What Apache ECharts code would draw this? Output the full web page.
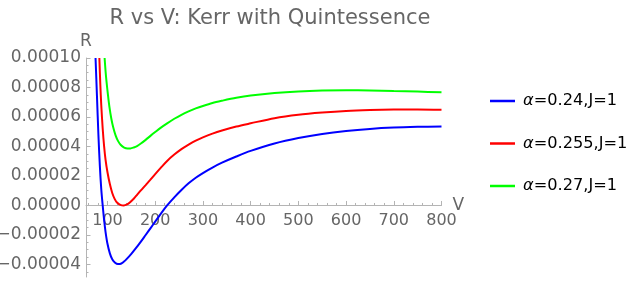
<!DOCTYPE html>
<html>
<head>
<meta charset="utf-8">
<script src="https://cdn.jsdelivr.net/npm/echarts@6/dist/echarts.min.js"></script>
<style>
  html, body { margin: 0; padding: 0; background: #fff; }
  #chart { width: 637px; height: 282px; }
</style>
</head>
<body>
<div id="chart"></div>
<script>
const seriesNames = ['α=0.24,J=1', 'α=0.255,J=1', 'α=0.27,J=1'];

// R values below are in units of 1e-5
const vBlue = [75, 78, 81, 84, 87, 90, 93, 96, 100, 105, 110, 116, 122, 128, 134, 140, 150, 160, 170, 180, 190, 200, 212, 225, 240, 255, 270, 285, 300, 320, 340, 370, 400, 450, 500, 550, 600, 650, 700, 750, 800];
const rBlue = [10, 7.4, 4.8, 2.7, 1.1, 0, -1.0, -1.8, -2.6, -3.25, -3.65, -3.88, -3.97, -3.95, -3.82, -3.64, -3.28, -2.88, -2.45, -2.0, -1.55, -1.1, -0.55, 0, 0.55, 1.05, 1.5, 1.88, 2.2, 2.57, 2.9, 3.32, 3.7, 4.2, 4.57, 4.85, 5.05, 5.19, 5.28, 5.33, 5.36];

const vRed = [83, 85, 87, 90, 93, 96, 100, 105, 110, 115, 120, 127, 134, 141, 148, 155, 162, 170, 180, 190, 200, 212, 225, 240, 255, 270, 285, 300, 320, 340, 370, 400, 450, 500, 550, 600, 650, 700, 750, 800];
const rRed = [10, 8.2, 6.8, 5.2, 4.0, 3.1, 2.25, 1.45, 0.85, 0.45, 0.2, 0.04, 0, 0.07, 0.24, 0.46, 0.72, 1.02, 1.38, 1.75, 2.13, 2.57, 3.02, 3.45, 3.82, 4.13, 4.4, 4.62, 4.87, 5.08, 5.35, 5.57, 5.92, 6.15, 6.3, 6.41, 6.47, 6.5, 6.51, 6.49];

const vGreen = [94, 96, 98, 101, 104, 108, 112, 117, 122, 128, 135, 142, 148, 155, 162, 170, 180, 190, 200, 212, 225, 240, 255, 270, 285, 300, 320, 340, 370, 400, 450, 500, 550, 600, 650, 700, 750, 800];
const rGreen = [10, 9.1, 8.4, 7.5, 6.7, 5.9, 5.3, 4.75, 4.38, 4.1, 3.93, 3.87, 3.87, 3.93, 4.03, 4.2, 4.45, 4.72, 4.98, 5.28, 5.57, 5.88, 6.15, 6.38, 6.58, 6.75, 6.95, 7.1, 7.3, 7.45, 7.62, 7.73, 7.79, 7.81, 7.8, 7.76, 7.72, 7.67];

const xMajorTicks = [100, 200, 300, 400, 500, 600, 700, 800];
const xMinorTicks = [60, 80, 120, 140, 160, 180, 220, 240, 260, 280, 320, 340, 360, 380, 420, 440, 460, 480, 520, 540, 560, 580, 620, 640, 660, 680, 720, 740, 760, 780];
const yMajorTicks = [-0.00004, -0.00002, 0, 0.00002, 0.00004, 0.00006, 0.00008, 0.0001];
const yMinorTicks = [-0.000045, -0.000035, -0.00003, -0.000025, -0.000015, -0.00001, -0.000005, 0.000005, 0.00001, 0.000015, 0.000025, 0.00003, 0.000035, 0.000045, 0.00005, 0.000055, 0.000065, 0.00007, 0.000075, 0.000085, 0.00009, 0.000095];

const colors = ['#0000ff', '#ff0000', '#00ff00'];
const SCALE = 1e-5;
function zip(xs, ys) { return xs.map((x, i) => [x, ys[i] * SCALE]); }

const X_MIN = 55, X_MAX = 800, Y_MIN = -0.0000485, Y_MAX = 0.0001;
const GRID_TOP = 58, GRID_H = 219;
// the horizontal axis crosses at R = 0: lift it from the grid bottom to the zero line
const X_AXIS_OFFSET = -GRID_H * (0 - Y_MIN) / (Y_MAX - Y_MIN);

const axisGray = '#b4b4b4';
const labelGray = '#666666';
const FONT = '"DejaVu Sans", sans-serif';

const chart = echarts.init(document.getElementById('chart'), null, { renderer: 'canvas' });

chart.setOption({
  animation: false,
  backgroundColor: '#ffffff',
  textStyle: { fontFamily: FONT },
  title: {
    text: 'R vs V: Kerr with Quintessence',
    left: 265,
    textAlign: 'center',
    top: 3,
    textStyle: { fontFamily: FONT, fontSize: 21, fontWeight: 'normal', color: labelGray }
  },
  grid: { left: 86, top: GRID_TOP, width: 355.5, height: GRID_H, containLabel: false, outerBoundsMode: 'none' },
  legend: {
    orient: 'vertical',
    left: 485,
    top: 86,
    itemWidth: 25,
    itemHeight: 2.5,
    itemGap: 22.5,
    icon: 'rect',
    data: seriesNames,
    formatter: function (name) {
      return '{a|α}{b|' + name.slice(1) + '}';
    },
    textStyle: {
      fontFamily: FONT, fontSize: 16.2, color: '#000', lineHeight: 20,
      padding: [0, 0, 0, 3],
      rich: {
        a: { fontFamily: FONT, fontSize: 16.2, fontStyle: 'italic', color: '#000', lineHeight: 20 },
        b: { fontFamily: FONT, fontSize: 16.2, color: '#000', lineHeight: 20 }
      }
    }
  },
  xAxis: [
    {
      type: 'value', min: X_MIN, max: X_MAX, position: 'bottom', offset: X_AXIS_OFFSET,
      name: 'V', nameLocation: 'end', nameGap: 11, nameMoveOverlap: false,
      nameTextStyle: { fontFamily: FONT, fontSize: 17, color: labelGray, verticalAlign: 'middle' },
      axisLine: { show: true, onZero: false, lineStyle: { color: axisGray, width: 1 } },
      axisTick: { show: true, inside: true, length: 4.5, customValues: xMajorTicks, lineStyle: { color: axisGray } },
      axisLabel: { show: true, customValues: xMajorTicks, margin: 7, fontFamily: FONT, fontSize: 16, color: labelGray },
      splitLine: { show: false }
    },
    {
      type: 'value', min: X_MIN, max: X_MAX, position: 'bottom', offset: X_AXIS_OFFSET,
      axisLine: { show: false, onZero: false },
      axisTick: { show: true, inside: true, length: 2.5, customValues: xMinorTicks, lineStyle: { color: axisGray } },
      axisLabel: { show: false },
      splitLine: { show: false }
    }
  ],
  yAxis: [
    {
      type: 'value', min: Y_MIN, max: Y_MAX, position: 'left',
      name: 'R', nameLocation: 'end', nameGap: 8, nameMoveOverlap: false,
      nameTextStyle: { fontFamily: FONT, fontSize: 17, color: labelGray, align: 'center' },
      axisLine: { show: true, onZero: false, lineStyle: { color: axisGray, width: 1 } },
      axisTick: { show: true, inside: true, length: 4.5, customValues: yMajorTicks, lineStyle: { color: axisGray } },
      axisLabel: {
        show: true, customValues: yMajorTicks, margin: 5, fontFamily: FONT, fontSize: 17, color: labelGray,
        formatter: function (v) { return (v < 0 ? '\u2212' : '') + Math.abs(v).toFixed(5); }
      },
      splitLine: { show: false }
    },
    {
      type: 'value', min: Y_MIN, max: Y_MAX, position: 'left',
      axisLine: { show: false, onZero: false },
      axisTick: { show: true, inside: true, length: 2.5, customValues: yMinorTicks, lineStyle: { color: axisGray } },
      axisLabel: { show: false },
      splitLine: { show: false }
    }
  ],
  series: [
    { name: seriesNames[0], type: 'line', data: zip(vBlue, rBlue), color: colors[0] },
    { name: seriesNames[1], type: 'line', data: zip(vRed, rRed), color: colors[1] },
    { name: seriesNames[2], type: 'line', data: zip(vGreen, rGreen), color: colors[2] }
  ].map(s => Object.assign(s, {
    xAxisIndex: 0, yAxisIndex: 0, showSymbol: false, smooth: 0.3, clip: true,
    lineStyle: { width: 2, color: s.color }, emphasis: { disabled: true }
  }))
});
</script>
</body>
</html>
